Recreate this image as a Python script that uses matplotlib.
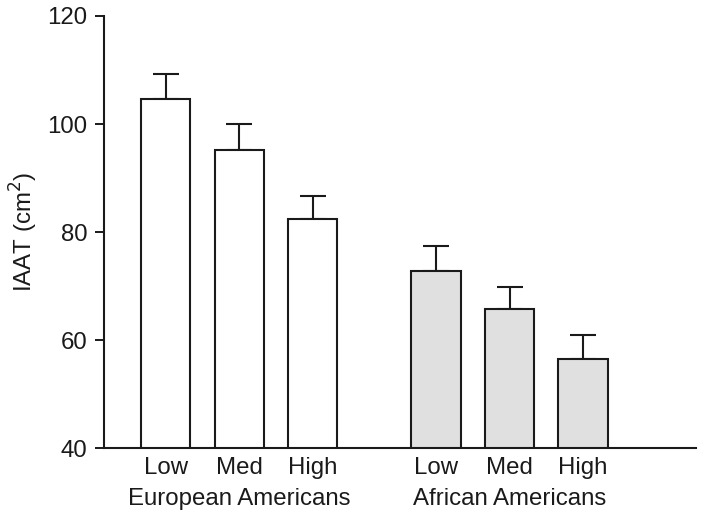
import matplotlib.pyplot as plt
import matplotlib.transforms as mtransforms

plt.rcParams['font.family'] = ['Liberation Sans', 'DejaVu Sans']

# data
levels = ["Low", "Med", "High"]
groups = ["European Americans", "African Americans"]
ea_means = [104.6, 95.2, 82.5]
ea_err = [4.6, 4.8, 4.2]
aa_means = [72.8, 65.7, 56.5]
aa_err = [4.7, 4.2, 4.5]
group_colors = ["white", "#e0e0e0"]

fig = plt.figure(figsize=(7.01, 5.19), dpi=100)
ax = fig.add_axes([0.1484, 0.1362, 0.8446, 0.8330])

positions = [[0, 1, 2], [3.68, 4.68, 5.68]]
means = [ea_means, aa_means]
errs = [ea_err, aa_err]

for pos, m, e, c in zip(positions, means, errs, group_colors):
    ax.bar(pos, m, width=0.67, bottom=0, color=c, edgecolor="#1a1a1a",
           linewidth=1.5, zorder=2)
    ax.errorbar(pos, m, yerr=[[0] * len(e), e], fmt="none", ecolor="#1a1a1a",
                elinewidth=1.5, capsize=9.5, capthick=1.5, zorder=1)

fs = 17.3
ax.set_ylim(40, 120)
ax.set_xlim(-0.84, 7.22)
ax.set_yticks([40, 60, 80, 100, 120])
ax.set_xticks(positions[0] + positions[1])
ax.set_xticklabels(levels * 2)
ax.tick_params(axis="y", length=6.5, width=1.4, labelsize=fs, pad=5.5,
               color="#1a1a1a", labelcolor="#1a1a1a")
ax.tick_params(axis="x", length=0, labelsize=fs, pad=6.5, labelcolor="#1a1a1a")

for s in ["top", "right"]:
    ax.spines[s].set_visible(False)
for s in ["left", "bottom"]:
    ax.spines[s].set_linewidth(1.5)
    ax.spines[s].set_color("#1a1a1a")

ax.set_ylabel("IAAT (cm$^2$)", fontsize=fs, color="#1a1a1a", labelpad=5.5)

trans = mtransforms.blended_transform_factory(ax.transData, fig.transFigure)
for pos, g in zip(positions, groups):
    ax.text(pos[1], 1 - 499 / 519, g, transform=trans, ha="center", va="center",
            fontsize=fs, color="#1a1a1a")

fig.savefig("out.png", dpi=100)
